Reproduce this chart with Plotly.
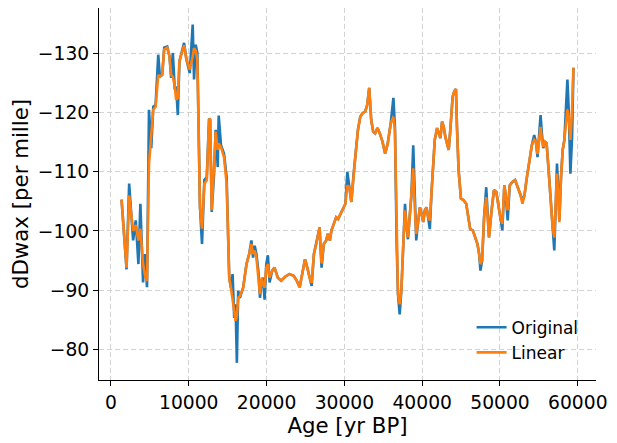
import plotly.graph_objects as go

age = [1360, 2000, 2335, 2845, 3185, 3525, 3780, 4120, 4375, 4630,
       4885, 5180, 5435, 5735, 6075, 6285, 6585, 6840, 7225, 7525,
       7735, 7950, 8200, 8375, 8590, 8800, 9395, 9695, 10120, 10505,
       10675, 10890, 11100, 11440, 11700, 12000, 12315, 12610, 12740, 12950,
       13250, 13460, 13720, 13845, 14140, 14525, 14865, 15200, 15415, 15630,
       15840, 16010, 16180, 16350, 16565, 16990, 17420, 17760, 18050, 18260,
       18470, 18690, 18940, 19150, 19365, 19535, 19745, 19960, 20170, 20385,
       20725, 21020, 21445, 21870, 22420, 22935, 23485, 23870, 24255, 24600,
       24940, 25235, 25530, 25790, 26085, 26385, 26810, 27065, 27360, 27660,
       27870, 28130, 28340, 28640, 28940, 29190, 29490, 29790, 30130, 30380,
       30640, 30895, 31190, 31490, 31745, 32040, 32340, 32680, 32935, 33190,
       33445, 33700, 33960, 34255, 34550, 34895, 35235, 35575, 35955, 36300,
       36500, 36720, 36890, 37105, 37320, 37575, 37790, 37960, 38170, 38385,
       38600, 38850, 39065, 39235, 39445, 39700, 39915, 40130, 40340, 40555,
       40765, 40980, 41190, 41405, 41615, 41915, 42130, 42340, 42555, 42765,
       42980, 43190, 43405, 43615, 43915, 44130, 44340, 44470, 44680, 44980,
       45320, 45660, 45870, 46170, 46510, 46810, 47105, 47320, 47490, 47700,
       47955, 48230, 48425, 48590, 48920, 49225, 49525, 49785, 50045, 50300,
       50560, 50735, 50990, 51250, 51595, 51940, 52240, 52585, 52890, 53145,
       53405, 53750, 54095, 54395, 54610, 54825, 55040, 55215, 55385, 55560,
       55775, 55990, 56250, 56550, 56765, 56980, 57200, 57325, 57500, 57630,
       57845, 58060, 58275, 58490, 58665, 58835, 59050, 59265, 59440]

original = [-105.3, -93.5, -108.0, -98.4, -101.8, -94.4, -104.6, -91.3, -96.1, -90.5,
            -120.5, -114.0, -121.0, -121.3, -129.8, -126.1, -126.4, -131.0, -131.2, -129.5,
            -125.9, -130.1, -123.9, -124.4, -119.6, -128.7, -131.8, -129.0, -126.7, -134.9,
            -125.6, -131.5, -130.1, -104.0, -97.8, -108.6, -109.1, -119.0, -118.8, -103.2,
            -109.7, -117.1, -110.8, -119.5, -114.5, -113.1, -109.1, -92.1, -90.4, -92.7,
            -85.3, -87.6, -77.7, -89.9, -88.7, -90.4, -94.4, -96.1, -98.4, -95.5,
            -97.5, -96.1, -93.3, -88.7, -91.6, -92.1, -88.4, -94.4, -95.9, -91.3,
            -93.3, -93.8, -92.1, -91.6, -92.3, -92.7, -92.4, -91.6, -90.5, -92.7,
            -95.2, -93.8, -92.1, -90.7, -96.1, -97.8, -100.6, -93.8, -97.8, -98.4,
            -99.5, -98.4, -100.1, -101.2, -102.3, -102.0, -102.9, -103.7, -104.6, -110.0,
            -107.4, -104.9, -109.7, -113.7, -117.1, -119.3, -119.9, -120.2, -121.3, -124.2,
            -118.8, -116.8, -116.5, -117.4, -116.5, -115.1, -113.1, -114.8, -118.2, -122.5,
            -117.5, -97.8, -89.3, -85.9, -89.9, -97.8, -104.6, -101.2, -98.6, -102.3,
            -105.7, -114.5, -104.6, -98.4, -101.2, -104.0, -102.9, -101.5, -103.5, -104.0,
            -102.3, -100.3, -106.3, -112.0, -115.4, -117.4, -116.5, -115.7, -118.5, -117.6,
            -115.9, -114.5, -113.7, -117.1, -122.7, -123.6, -124.0, -117.6, -110.3, -105.5,
            -105.2, -104.6, -102.9, -100.3, -100.1, -98.9, -97.8, -96.1, -93.3, -95.0,
            -102.3, -107.4, -101.8, -98.9, -103.5, -106.9, -106.6, -104.0, -102.3, -100.1,
            -107.7, -106.0, -101.8, -107.7, -108.3, -108.6, -107.4, -106.3, -105.2, -106.0,
            -108.6, -112.0, -114.5, -116.2, -115.1, -112.5, -115.9, -119.6, -116.5, -114.0,
            -115.1, -114.8, -110.3, -104.6, -100.6, -96.7, -105.7, -111.4, -106.9, -101.8,
            -109.1, -113.7, -115.4, -121.0, -125.6, -120.5, -109.7, -115.9, -127.6]

linear = [-105.3, -93.8, -106.0, -100.0, -101.0, -98.4, -100.4, -94.4, -92.5, -91.5,
          -111.4, -116.0, -120.5, -121.0, -126.4, -126.1, -126.4, -130.7, -131.0, -129.5,
          -126.4, -126.1, -124.4, -122.2, -122.5, -128.7, -131.4, -129.0, -127.3, -129.5,
          -130.9, -130.5, -129.0, -104.0, -100.4, -108.0, -108.6, -118.8, -119.0, -103.5,
          -110.3, -116.8, -113.7, -114.8, -114.2, -112.5, -108.0, -92.1, -90.4, -88.7,
          -86.5, -84.8, -85.6, -88.7, -89.0, -90.4, -94.4, -96.1, -97.8, -96.1,
          -96.7, -95.5, -92.7, -89.3, -92.1, -91.0, -90.4, -93.8, -94.4, -92.1,
          -93.3, -93.8, -92.1, -91.6, -92.3, -92.7, -92.4, -91.6, -90.5, -92.7,
          -95.2, -93.8, -92.1, -91.2, -96.1, -97.8, -100.6, -94.5, -97.8, -98.4,
          -99.5, -98.4, -100.1, -101.2, -102.3, -102.0, -102.9, -103.7, -104.6, -107.7,
          -107.4, -104.9, -109.7, -113.7, -117.1, -119.3, -119.9, -120.2, -121.3, -124.2,
          -118.8, -116.8, -116.5, -117.4, -116.5, -115.1, -113.1, -114.8, -118.2, -119.3,
          -117.0, -97.8, -89.3, -87.6, -89.9, -97.8, -103.5, -101.2, -98.9, -102.3,
          -105.7, -110.6, -103.5, -99.5, -101.2, -104.0, -102.9, -101.5, -103.5, -104.0,
          -102.3, -101.8, -106.3, -112.0, -115.4, -117.4, -116.5, -115.7, -118.5, -117.6,
          -115.9, -114.5, -113.7, -117.1, -122.7, -123.6, -124.0, -117.6, -110.3, -105.5,
          -105.2, -104.6, -102.9, -100.3, -100.1, -98.9, -97.8, -96.1, -94.4, -95.0,
          -102.3, -105.7, -101.8, -98.9, -103.5, -106.9, -106.6, -104.0, -102.3, -101.2,
          -107.7, -106.0, -103.5, -107.7, -108.3, -108.6, -107.4, -106.3, -104.6, -106.0,
          -108.6, -112.0, -114.5, -115.4, -115.1, -113.0, -115.9, -117.6, -115.4, -114.2,
          -115.1, -114.8, -110.3, -104.6, -100.6, -98.9, -104.6, -109.7, -105.7, -101.5,
          -109.1, -113.7, -115.4, -119.0, -120.5, -119.3, -115.4, -120.5, -127.6]

x_ticks = [0, 10000, 20000, 30000, 40000, 50000, 60000]
x_ticktext = ["0", "10000", "20000", "30000", "40000", "50000", "60000"]
y_ticks = [-130, -120, -110, -100, -90, -80]
y_ticktext = ["\u2212130", "\u2212120", "\u2212110", "\u2212100", "\u221290", "\u221280"]

FONT = "DejaVu Sans"

fig = go.Figure()
fig.add_trace(go.Scatter(x=age, y=original, mode="lines", name="Original",
                         line=dict(color="#1f77b4", width=2.6)))
fig.add_trace(go.Scatter(x=age, y=linear, mode="lines", name="Linear",
                         line=dict(color="#ff7f0e", width=2.6)))

axis_common = dict(
    showline=True, linecolor="black", linewidth=1.2,
    ticks="outside", ticklen=5, tickwidth=1.2, tickcolor="black",
    showgrid=True, gridcolor="#d3d3d3", gridwidth=1, griddash="5px,3px",
    zeroline=False, mirror=False, automargin=False,
    tickfont=dict(family=FONT, size=18.7, color="black"),
)

# the page body adds an 8 px offset, so the figure is sized to fit the window
fig.update_layout(
    width=609, height=435,
    margin=dict(l=91, r=21, t=0, b=63),
    paper_bgcolor="white", plot_bgcolor="white",
    font=dict(family=FONT, color="black"),
    showlegend=True,
    legend=dict(x=0.975, y=0.025, xanchor="right", yanchor="bottom",
                bgcolor="rgba(0,0,0,0)", borderwidth=0,
                font=dict(family=FONT, size=17, color="black"),
                tracegroupgap=0, itemwidth=30),
    xaxis=dict(range=[-1540, 62340], tickvals=x_ticks, ticktext=x_ticktext,
               title=dict(text="Age [yr BP]", font=dict(family=FONT, size=21.3), standoff=1),
               **axis_common),
    yaxis=dict(range=[-74.8, -137.7], tickvals=y_ticks, ticktext=y_ticktext,
               title=dict(text="dDwax [per mille]", font=dict(family=FONT, size=21.3), standoff=8),
               **axis_common),
)

fig.write_html("out.html")
